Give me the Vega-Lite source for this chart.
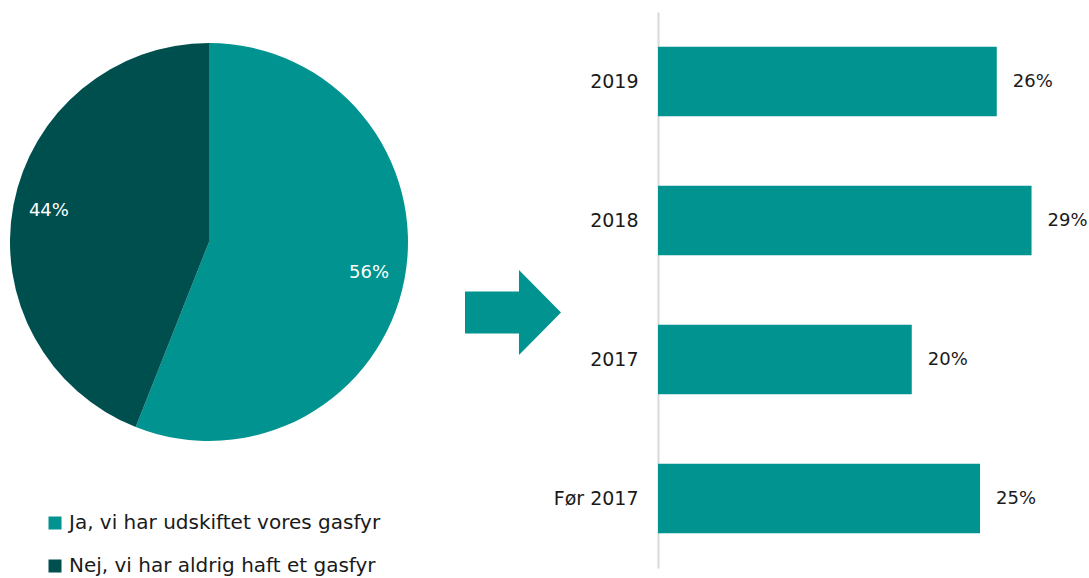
{
  "$schema": "https://vega.github.io/schema/vega-lite/v6.json",
  "padding": {"left": 0, "top": 12, "right": 0, "bottom": 0},
  "bounds": "flush",
  "spacing": 0,
  "config": {"view": {"stroke": null}, "font": "DejaVu Sans"},
  "hconcat": [
    {
      "width": 418,
      "height": 460,
      "data": {"values": [
        {"svar": "Ja, vi har udskiftet vores gasfyr", "andel": 0.56, "orden": 1},
        {"svar": "Nej, vi har aldrig haft et gasfyr", "andel": 0.44, "orden": 2}
      ]},
      "encoding": {
        "theta": {"field": "andel", "type": "quantitative", "stack": true},
        "order": {"field": "orden", "type": "quantitative"}
      },
      "layer": [
        {
          "mark": {"type": "arc", "radius": 199, "strokeWidth": 0},
          "encoding": {
            "color": {
              "field": "svar", "type": "nominal",
              "scale": {"domain": ["Ja, vi har udskiftet vores gasfyr", "Nej, vi har aldrig haft et gasfyr"], "range": ["#009390", "#004f4f"]},
              "legend": {"orient": "none", "legendX": 45, "legendY": 501, "title": null, "direction": "vertical",
                "symbolType": "square", "symbolSize": 169, "symbolStrokeWidth": 0, "labelFontSize": 20,
                "labelColor": "#1a1a1a", "labelOffset": 4, "rowPadding": 23, "padding": 0, "labelLimit": 500}
            }
          }
        },
        {
          "mark": {"type": "text", "radius": 163, "fontSize": 18, "color": "white", "align": "center", "baseline": "middle"},
          "encoding": {"text": {"field": "andel", "type": "quantitative", "format": ".0%"}}
        }
      ]
    },
    {
      "width": 240,
      "height": 556,
      "data": {"values": [{"form": "pil"}]},
      "mark": {"type": "point", "shape": "M-1.521,0.031L-0.396,0.031L-0.396,-0.416L0.479,0.469L-0.396,1.354L-0.396,0.906L-1.521,0.906Z", "size": 9216, "filled": true, "color": "#009390", "opacity": 1, "strokeWidth": 0},
      "encoding": {}
    },
    {
      "width": 431,
      "height": 556,
      "data": {"values": [
        {"aar": "2019", "andel": 0.263},
        {"aar": "2018", "andel": 0.29},
        {"aar": "2017", "andel": 0.197},
        {"aar": "Før 2017", "andel": 0.25}
      ]},
      "encoding": {
        "y": {"field": "aar", "type": "nominal", "sort": ["2019", "2018", "2017", "Før 2017"],
          "scale": {"paddingInner": 0.5, "paddingOuter": 0.25},
          "axis": {"title": null, "ticks": false, "labelPadding": 20, "labelFontSize": 19, "labelColor": "#1a1a1a",
            "domainColor": "#d9d9d9", "domainWidth": 2, "grid": false}},
        "x": {"field": "andel", "type": "quantitative", "scale": {"domain": [0, 0.3346]}, "axis": null}
      },
      "layer": [
        {"mark": {"type": "bar", "color": "#009390"}},
        {"mark": {"type": "text", "align": "left", "baseline": "middle", "dx": 16, "fontSize": 18, "color": "#1a1a1a"},
         "encoding": {"text": {"field": "andel", "type": "quantitative", "format": ".0%"}}}
      ]
    }
  ]
}
